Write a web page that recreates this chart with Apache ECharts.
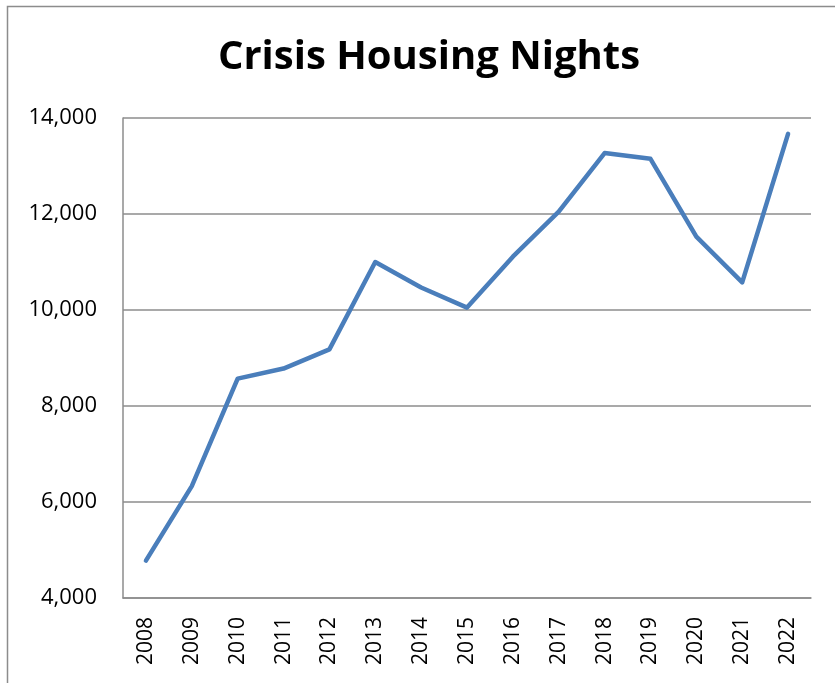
<!DOCTYPE html>
<html>
<head>
<meta charset="utf-8">
<script src="https://cdn.jsdelivr.net/npm/echarts@6/dist/echarts.min.js"></script>
<style>
  html, body { margin: 0; padding: 0; background: #fff; }
  #chart { width: 835px; height: 683px; }
</style>
</head>
<body>
<div id="chart"></div>
<script>
const years = ['2008', '2009', '2010', '2011', '2012', '2013', '2014', '2015',
  '2016', '2017', '2018', '2019', '2020', '2021', '2022'];
const nights = [4780, 6330, 8570, 8780, 9180, 11000, 10470, 10050,
  11110, 12050, 13270, 13150, 11530, 10575, 13670];
const yTicks = [4000, 6000, 8000, 10000, 12000, 14000];

const chart = echarts.init(document.getElementById('chart'));
const font = '"Open Sans", "Liberation Sans", sans-serif';

chart.setOption({
  animation: false,
  title: {
    text: 'Crisis Housing Nights',
    left: 424,
    top: 33,
    textAlign: 'center',
    textStyle: { fontFamily: font, fontWeight: 'bold', fontSize: 40, color: '#000' }
  },
  graphic: [{
    type: 'rect',
    shape: { x: 7.5, y: 6.5, width: 900, height: 800 },
    style: { fill: 'none', stroke: '#8c8c8c', lineWidth: 1.5 },
    silent: true
  }],
  grid: { left: 123, right: 24, top: 118, bottom: 85 },
  xAxis: {
    type: 'category',
    data: years,
    boundaryGap: true,
    axisLine: { show: true, lineStyle: { color: '#8c8c8c', width: 1.5 } },
    axisTick: { show: false },
    axisLabel: {
      rotate: 90,
      margin: 19,
      color: '#000',
      fontSize: 21,
      fontFamily: font
    }
  },
  yAxis: {
    type: 'value',
    min: yTicks[0],
    max: yTicks[yTicks.length - 1],
    interval: 2000,
    axisLine: { show: true, lineStyle: { color: '#8c8c8c', width: 1.5 } },
    axisTick: { show: false },
    splitLine: { lineStyle: { color: '#8c8c8c', width: 1.5 } },
    axisLabel: {
      margin: 26,
      color: '#000',
      fontSize: 22,
      fontFamily: font,
      formatter: v => v.toLocaleString('en-US')
    }
  },
  series: [{
    type: 'line',
    data: nights,
    symbol: 'none',
    lineStyle: { color: '#4a7ebb', width: 4.5, cap: 'round', join: 'round' }
  }]
});
</script>
</body>
</html>
